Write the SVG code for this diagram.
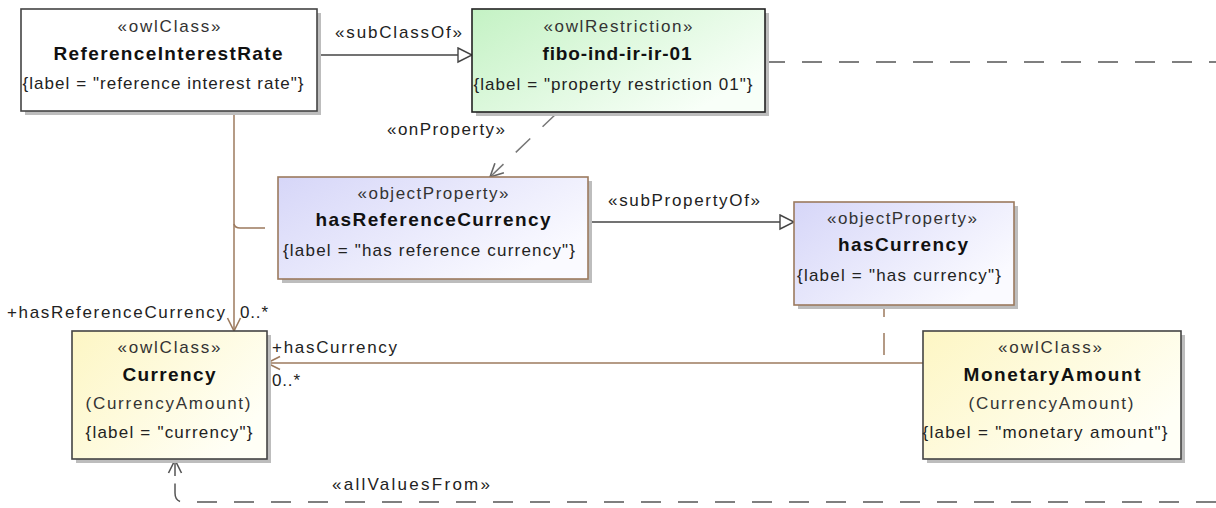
<svg xmlns="http://www.w3.org/2000/svg" width="1216" height="508" viewBox="0 0 1216 508">
<defs>
<linearGradient id="gGreen" x1="0" y1="0" x2="1" y2="0.6"><stop offset="0" stop-color="#c4f2c4"/><stop offset="1" stop-color="#f8fff8"/></linearGradient>
<linearGradient id="gBlue" x1="0" y1="0" x2="1" y2="0.6"><stop offset="0" stop-color="#d6d6f8"/><stop offset="1" stop-color="#fafaff"/></linearGradient>
<linearGradient id="gYellow" x1="0" y1="0" x2="1" y2="0.6"><stop offset="0" stop-color="#fdf6c4"/><stop offset="1" stop-color="#fffff6"/></linearGradient>
<marker id="tri" markerWidth="18" markerHeight="18" refX="15" refY="8" orient="auto" markerUnits="userSpaceOnUse"><path d="M1,1 L15,8 L1,15 Z" fill="#fff" stroke="#444" stroke-width="1.4"/></marker>
<marker id="openGray" markerWidth="18" markerHeight="18" refX="15" refY="8" orient="auto" markerUnits="userSpaceOnUse"><path d="M2,1.5 L15,8 L2,14.5" fill="none" stroke="#666" stroke-width="1.6"/></marker>
<marker id="openBrown" markerWidth="18" markerHeight="18" refX="15" refY="8" orient="auto" markerUnits="userSpaceOnUse"><path d="M2,1.5 L15,8 L2,14.5" fill="none" stroke="#9c7a5e" stroke-width="1.6"/></marker>
<marker id="openDark" markerWidth="18" markerHeight="18" refX="15" refY="8" orient="auto" markerUnits="userSpaceOnUse"><path d="M2,1.5 L15,8 L2,14.5" fill="none" stroke="#555" stroke-width="1.6"/></marker>
</defs>
<style>
text{font-family:"Liberation Sans",Arial,sans-serif;fill:#222;}
.st{font-size:17px;text-anchor:middle;fill:#333;}
.nm{font-size:19px;font-weight:bold;text-anchor:middle;fill:#111;}
.lb{font-size:17px;text-anchor:middle;fill:#222;}
.el{font-size:17px;fill:#222;}
.shadow{fill:#bdbdbd;}
.bDark{stroke:#444;stroke-width:1.6;}
.bBrown{stroke:#9c7a5e;stroke-width:1.6;}
.solid{fill:none;stroke:#444;stroke-width:1.4;}
.brown{fill:none;stroke:#9c7a5e;stroke-width:1.5;}
.dash{fill:none;stroke:#555;stroke-width:1.5;stroke-dasharray:20 17;}
</style>

<g id="connectors">
<line class="solid" x1="317" y1="55" x2="472" y2="55" marker-end="url(#tri)"/>
<line class="solid" x1="588" y1="222" x2="794" y2="222" marker-end="url(#tri)"/>
<line x1="557" y1="113" x2="490" y2="177" fill="none" stroke="#777" stroke-width="1.5" stroke-dasharray="20 17" marker-end="url(#openGray)"/>
<line class="dash" x1="765" y1="62" x2="1216" y2="62"/>
<line class="brown" x1="234" y1="111" x2="234" y2="331" marker-end="url(#openBrown)"/>
<path class="brown" d="M234,224 Q235,228 240,228 L265,228"/>
<line class="brown" x1="923" y1="363" x2="267" y2="363" marker-end="url(#openBrown)"/>
<path class="brown" d="M884,305 L884,317 M884,333 L884,355"/>
<path class="dash" d="M1216,502 L184,502 Q175,502 175,493 L175,475"/>
<line x1="175" y1="476" x2="175" y2="460" fill="none" stroke="#555" stroke-width="1.5" marker-end="url(#openDark)"/>
<text class="el" x="335" y="38" textLength="127" lengthAdjust="spacing">«subClassOf»</text>
<text class="el" x="387" y="135" textLength="118" lengthAdjust="spacing">«onProperty»</text>
<text class="el" x="608" y="206" textLength="152" lengthAdjust="spacing">«subPropertyOf»</text>
<text class="el" x="7" y="318" textLength="218" lengthAdjust="spacing">+hasReferenceCurrency</text>
<text class="el" x="240" y="318" textLength="28" lengthAdjust="spacing">0..*</text>
<text class="el" x="272" y="353" textLength="125" lengthAdjust="spacing">+hasCurrency</text>
<text class="el" x="272" y="386" textLength="28" lengthAdjust="spacing">0..*</text>
<text class="el" x="332" y="490" textLength="158" lengthAdjust="spacing">«allValuesFrom»</text>
</g>

<g id="ReferenceInterestRate">
<rect class="shadow" x="25" y="13" width="296" height="102"/>
<rect class="bDark" x="21" y="9" width="296" height="102" fill="#fff"/>
<text class="st" x="169" y="32" textLength="103" lengthAdjust="spacing">«owlClass»</text>
<text class="nm" x="168" y="60" textLength="229" lengthAdjust="spacing">ReferenceInterestRate</text>
<text class="lb" x="163" y="89" textLength="281" lengthAdjust="spacing">{label = "reference interest rate"}</text>
</g>

<g id="fibo-ind-ir-ir-01">
<rect class="shadow" x="476" y="13" width="293" height="103"/>
<rect x="472" y="9" width="293" height="103" fill="url(#gGreen)" stroke="#222" stroke-width="1.6"/>
<text class="st" x="618" y="32" textLength="149" lengthAdjust="spacing">«owlRestriction»</text>
<text class="nm" x="617" y="60" textLength="149" lengthAdjust="spacing">fibo-ind-ir-ir-01</text>
<text class="lb" x="613" y="90" textLength="279" lengthAdjust="spacing">{label = "property restriction 01"}</text>
</g>

<g id="hasReferenceCurrency">
<rect class="shadow" x="282" y="181" width="310" height="102"/>
<rect class="bBrown" x="278" y="177" width="310" height="102" fill="url(#gBlue)"/>
<text class="st" x="433" y="199" textLength="151" lengthAdjust="spacing">«objectProperty»</text>
<text class="nm" x="433" y="226" textLength="235" lengthAdjust="spacing">hasReferenceCurrency</text>
<text class="lb" x="429" y="256" textLength="292" lengthAdjust="spacing">{label = "has reference currency"}</text>
</g>

<g id="hasCurrency">
<rect class="shadow" x="798" y="206" width="220" height="103"/>
<rect class="bBrown" x="794" y="202" width="220" height="103" fill="url(#gBlue)"/>
<text class="st" x="902" y="224" textLength="150" lengthAdjust="spacing">«objectProperty»</text>
<text class="nm" x="903" y="251" textLength="130" lengthAdjust="spacing">hasCurrency</text>
<text class="lb" x="899" y="281" textLength="204" lengthAdjust="spacing">{label = "has currency"}</text>
</g>

<g id="Currency">
<rect class="shadow" x="76" y="335" width="195" height="128"/>
<rect class="bDark" x="72" y="331" width="195" height="128" fill="url(#gYellow)"/>
<text class="st" x="169" y="353" textLength="103" lengthAdjust="spacing">«owlClass»</text>
<text class="nm" x="169" y="381" textLength="93" lengthAdjust="spacing">Currency</text>
<text class="st" x="168" y="409" textLength="165" lengthAdjust="spacing">(CurrencyAmount)</text>
<text class="lb" x="169" y="438" textLength="167" lengthAdjust="spacing">{label = "currency"}</text>
</g>

<g id="MonetaryAmount">
<rect class="shadow" x="927" y="335" width="258" height="128"/>
<rect class="bDark" x="923" y="331" width="258" height="128" fill="url(#gYellow)"/>
<text class="st" x="1050" y="353" textLength="104" lengthAdjust="spacing">«owlClass»</text>
<text class="nm" x="1052" y="381" textLength="177" lengthAdjust="spacing">MonetaryAmount</text>
<text class="st" x="1051" y="409" textLength="165" lengthAdjust="spacing">(CurrencyAmount)</text>
<text class="lb" x="1045" y="438" textLength="245" lengthAdjust="spacing">{label = "monetary amount"}</text>
</g>
</svg>
